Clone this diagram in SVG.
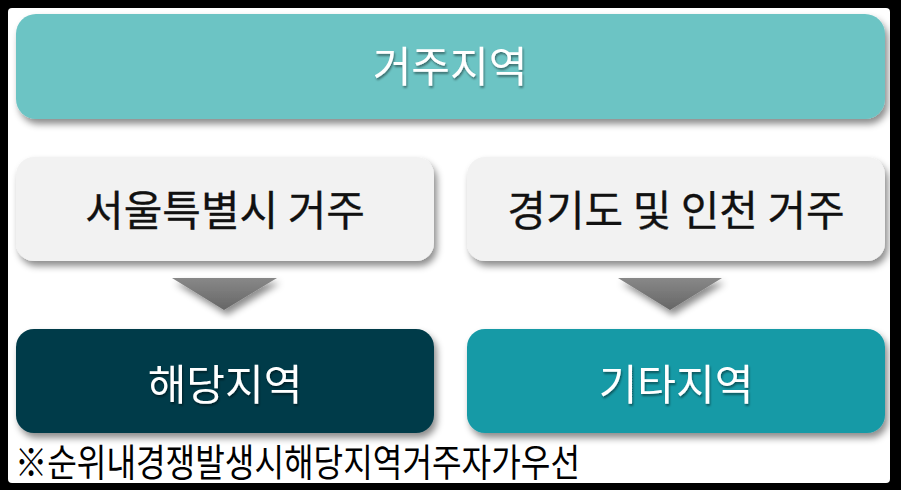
<svg xmlns="http://www.w3.org/2000/svg" width="901" height="490" viewBox="0 0 901 490">
<defs>
<filter id="sh" x="-10%" y="-20%" width="120%" height="150%">
<feDropShadow dx="3" dy="5" stdDeviation="3.5" flood-color="#000" flood-opacity="0.45"/>
</filter>
<filter id="ts" x="-10%" y="-20%" width="120%" height="150%">
<feDropShadow dx="1" dy="2" stdDeviation="1.2" flood-color="#000" flood-opacity="0.45"/>
</filter>
<linearGradient id="ag" x1="0" y1="0" x2="0" y2="1">
<stop offset="0" stop-color="#888"/>
<stop offset="1" stop-color="#666"/>
</linearGradient>
</defs>
<style>
.lbl{font-family:"Noto Sans CJK KR","Noto Sans",sans-serif;text-anchor:middle;}
.w{fill:#fff;font-size:42px;}
.k{fill:#111;font-size:42px;stroke:#111;stroke-width:0.3;}
</style>
<rect x="0" y="0" width="901" height="490" fill="#000"/>
<rect x="8" y="8" width="882" height="475" rx="4" fill="#fff"/>
<g id="top">
<rect x="16" y="14" width="869" height="105" rx="20" fill="#6CC4C4" filter="url(#sh)"/>
<text class="lbl w" x="450" y="82" filter="url(#ts)">거주지역</text>
</g>
<g id="seoul">
<rect x="16" y="157" width="418" height="104" rx="18" fill="#F2F2F2" filter="url(#sh)"/>
<text class="lbl k" x="225" y="226">서울특별시 거주</text>
</g>
<g id="gyeonggi">
<rect x="467" y="157" width="418" height="104" rx="18" fill="#F2F2F2" filter="url(#sh)"/>
<text class="lbl k" x="676" y="226">경기도 및 인천 거주</text>
</g>
<g id="connectors">
<polygon points="172,278 277,278 224,310" fill="url(#ag)" filter="url(#sh)"/>
<polygon points="618,278 722,278 670,310" fill="url(#ag)" filter="url(#sh)"/>
</g>
<g id="local">
<rect x="16" y="329" width="418" height="104" rx="18" fill="#033B48" filter="url(#sh)"/>
<text class="lbl w" x="225" y="400" filter="url(#ts)">해당지역</text>
</g>
<g id="other">
<rect x="467" y="329" width="418" height="104" rx="18" fill="#169AA6" filter="url(#sh)"/>
<text class="lbl w" x="676" y="400" filter="url(#ts)">기타지역</text>
</g>
<g id="note">
<text x="15" y="476" font-family="Noto Sans CJK KR, sans-serif" font-size="38" fill="#000" textLength="565" lengthAdjust="spacingAndGlyphs">※순위내경쟁발생시해당지역거주자가우선</text>
</g>
</svg>
